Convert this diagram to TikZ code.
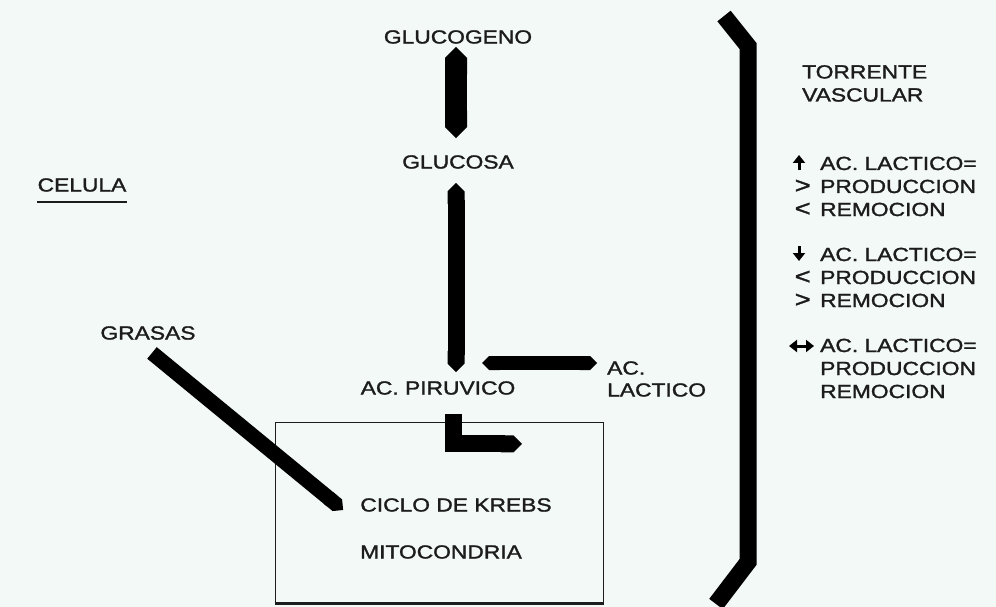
\documentclass[tikz,border=0pt]{standalone}
\usepackage{fontspec}
\setmainfont[FakeStretch=1.2, FakeBold=1.5]{Liberation Sans}
\usetikzlibrary{arrows.meta, positioning}

\definecolor{paper}{RGB}{243,249,247}
\definecolor{ink}{RGB}{28,28,28}

\begin{document}
\begin{tikzpicture}[
    x=1pt, y=-1pt,
    >={Triangle[length=8pt, width=12pt]},
    font=\fontsize{19}{23}\selectfont,
    % Texts
    txt/.style     ={inner sep=0pt, text=ink},
    lineitem/.style={txt, anchor=base west},
    relsym/.style  ={txt, font=\fontsize{23}{23}\selectfont},
    % Thick bars and small marks
    thickbar/.style={draw=black, line width=#1, line join=miter},
    thickbar/.default=17pt,
    sym/.style     ={draw=black, line width=3pt},
    box/.style     ={draw=ink, line width=1pt, inner sep=0pt,
                     minimum width=328pt, minimum height=181pt}
]

% Page and frame
\fill[paper] (0,0) rectangle (996,607);
\useasboundingbox (0,0) rectangle (996,607);

% ----------------------------- Cell ----------------------------------
\node[txt] (celula) at (82,185) {CELULA};
\draw[ink, line width=1.6pt] ([yshift=-10pt]celula.south west) -- ([yshift=-10pt]celula.south east);

\node[txt] (glucogeno) at (458,37)  {GLUCOGENO};
\node[txt] (glucosa)   at (458,162) {GLUCOSA};
\node[txt] (piruvico)  at (438,388) {AC. PIRUVICO};
\node[txt] (grasas)    at (148,333) {GRASAS};
\node[txt, anchor=west] (acl)     at (607,368) {AC.};
\node[txt, anchor=west] (lactico) at (607,390) {LACTICO};

% -------------------------- Mitochondria -----------------------------
\node[box] (mitobox) at (439,512.5) {};
\draw[ink, line width=2.2pt] (mitobox.south west) -- (mitobox.south east);
\node[txt] (krebs) at (456,505) {CICLO DE KREBS};
\node[txt] (mito)  at (441,552) {MITOCONDRIA};

% ============================ Bars ===================================
\draw[thickbar=22pt, {Triangle Cap}-{Triangle Cap}, shorten <=3pt, shorten >=17pt]
    ([xshift=-2pt]glucogeno.south) -- ([xshift=-2pt]glucosa.north);
\draw[thickbar, {Triangle Cap}-{Triangle Cap}, shorten <=14pt, shorten >=9pt]
    ([xshift=-2pt]glucosa.south) -- ([xshift=-2pt]glucosa.south |- piruvico.north);
\draw[thickbar=14pt, {Triangle Cap}-{Triangle Cap}, shorten <=10pt]
    ([yshift=5pt]acl.west) -- ++(-125,0);
\draw[thickbar, -{Triangle Cap}]
    ([shift={(15,19)}]piruvico.south) |- ++(69,30);
\draw[thickbar=15pt, -{Triangle Cap}]
    ([shift={(4,13)}]grasas.south) -- ([shift={(-17,5)}]krebs.west);

% ------------------------- Blood stream ------------------------------
\draw[thickbar] (724,16) -- (748,46) -- (748,562) -- (716,604);

\node[txt, align=left, anchor=north west] (torrente) at (802,65) {TORRENTE\\VASCULAR};

% Lactate rises
\node[lineitem] (lacA)  at (820,170) {AC. LACTICO=};
\node[lineitem] (prodA) at (820,193) {PRODUCCION};
\node[lineitem] (remA)  at (820,216) {REMOCION};
\draw[sym, ->] ([xshift=-21pt]lacA.base west) -- ++(0,-15);
\node[relsym, left=9pt of prodA] (gtA) {>};
\node[relsym, left=9pt of remA]  (ltA) {<};

% Lactate falls
\node[lineitem] (lacB)  at (820,261) {AC. LACTICO=};
\node[lineitem] (prodB) at (820,284) {PRODUCCION};
\node[lineitem] (remB)  at (820,307) {REMOCION};
\draw[sym, ->] ([shift={(-21,-15)}]lacB.base west) -- ++(0,15);
\node[relsym, left=9pt of prodB] (ltB) {<};
\node[relsym, left=9pt of remB]  (gtB) {>};

% Lactate steady
\node[lineitem] (lacC)  at (820,352) {AC. LACTICO=};
\node[lineitem] (prodC) at (820,375) {PRODUCCION};
\node[lineitem] (remC)  at (820,398) {REMOCION};
\draw[sym, <->] ([shift={(-31,-6)}]lacC.base west) -- ++(25,0);

\end{tikzpicture}
\end{document}
